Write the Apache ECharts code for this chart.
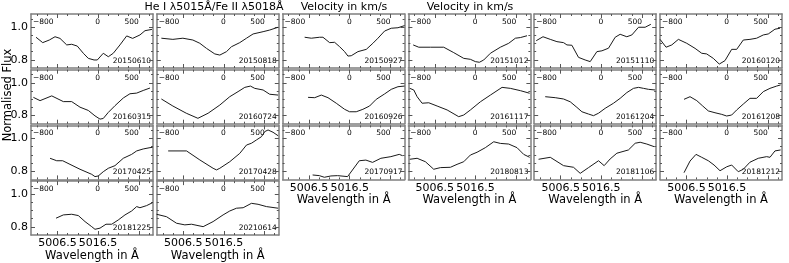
<!DOCTYPE html>
<html><head><meta charset="utf-8">
<script src="https://cdn.jsdelivr.net/npm/echarts@6/dist/echarts.min.js"></script>
<style>html,body{margin:0;padding:0;background:#fff}#c{width:789px;height:263px}</style>
</head><body><div id="c"></div><script>
// ---------------- data ----------------
const dates = ['20150610','20150818','20150927','20151012','20151110','20160120',
               '20160315','20160724','20160926','20161117','20161204','20161208',
               '20170425','20170428','20170917','20180813','20181106','20181212',
               '20181225','20210614'];
// velocity (km/s) and normalised flux per observation
const vel_20150610 = [-906,-808,-711,-627,-554,-455,-382,-300,-211,-138,-54,-6,82,156,229,327,426,514,621,695,797];
const flux_20150610 = [0.938,0.905,0.921,0.941,0.931,0.891,0.895,0.884,0.840,0.809,0.799,0.799,0.840,0.819,0.840,0.891,0.946,0.931,0.952,0.978,0.986];
const vel_20150818 = [-913,-744,-597,-450,-348,-250,-128,-54,44,117,239,338,435,582,679,802];
const flux_20150818 = [0.932,0.925,0.932,0.921,0.901,0.870,0.836,0.829,0.850,0.880,0.905,0.932,0.958,0.972,0.982,0.999];
const vel_20150927 = [-656,-558,-436,-387,-289,-216,-142,-69,-20,29,127,250,347,421,519,617,715,812];
const flux_20150927 = [0.938,0.932,0.938,0.938,0.905,0.907,0.880,0.850,0.823,0.825,0.850,0.864,0.901,0.932,0.976,0.993,0.996,1.009];
const vel_20151012 = [-910,-828,-656,-461,-314,-167,-69,4,63,127,225,371,494,592,665,763];
const flux_20151012 = [0.891,0.877,0.877,0.877,0.844,0.809,0.803,0.789,0.785,0.799,0.840,0.877,0.901,0.932,0.936,0.947];
const vel_20151110 = [-950,-851,-744,-646,-549,-499,-426,-329,-231,-157,-59,15,112,210,283,381,455,553,650,734];
const flux_20151110 = [0.917,0.941,0.925,0.911,0.905,0.891,0.889,0.815,0.799,0.789,0.850,0.855,0.871,0.938,0.956,0.941,0.952,0.999,0.999,1.017];
const vel_20160120 = [-979,-891,-807,-710,-587,-465,-367,-294,-197,-109,-25,73,147,244,342,440,538,611,709,783];
const flux_20160120 = [0.925,0.877,0.891,0.925,0.901,0.870,0.840,0.836,0.809,0.774,0.795,0.864,0.864,0.921,0.925,0.932,0.952,0.958,0.987,0.993];
const vel_20160315 = [-945,-847,-675,-505,-382,-260,-138,-40,34,82,156,254,376,474,573,669,768];
const flux_20160315 = [0.911,0.891,0.920,0.885,0.885,0.851,0.831,0.798,0.778,0.782,0.819,0.860,0.907,0.933,0.937,0.953,0.968];
const vel_20160724 = [-913,-744,-547,-376,-226,-54,92,214,313,396,459,582,679,802];
const flux_20160724 = [0.901,0.858,0.814,0.783,0.814,0.864,0.915,0.946,0.972,0.980,0.966,0.956,0.930,0.925];
const vel_20160926 = [-606,-508,-411,-313,-191,-69,4,102,200,298,396,519,617,715,812];
const flux_20160926 = [0.911,0.909,0.925,0.909,0.875,0.838,0.823,0.823,0.838,0.858,0.899,0.932,0.960,0.976,0.980];
const vel_20161117 = [-960,-901,-852,-779,-681,-558,-411,-241,-167,-69,78,225,396,518,665,802];
const flux_20161117 = [0.966,0.956,0.915,0.875,0.878,0.858,0.834,0.793,0.803,0.834,0.884,0.925,0.972,0.966,0.952,0.936];
const vel_20161204 = [-818,-671,-549,-451,-353,-279,-182,-109,-35,63,185,283,381,479,553,626,700,798];
const flux_20161204 = [0.915,0.909,0.901,0.884,0.850,0.823,0.809,0.799,0.814,0.844,0.875,0.905,0.940,0.966,0.972,0.966,0.960,0.956];
const vel_20161208 = [-627,-539,-440,-352,-270,-172,-73,0,73,147,244,342,440,538,636,734,793];
const flux_20161208 = [0.899,0.915,0.891,0.858,0.828,0.817,0.807,0.797,0.803,0.834,0.870,0.905,0.905,0.946,0.966,0.980,0.987];
const vel_20170425 = [-700,-602,-514,-407,-260,-88,-40,9,82,156,254,376,499,573,669,768,807];
const flux_20170425 = [0.879,0.864,0.864,0.842,0.812,0.781,0.767,0.771,0.797,0.818,0.834,0.879,0.903,0.924,0.936,0.944,0.946];
const vel_20170428 = [-813,-543,-348,-153,-103,-54,92,239,338,411,484,558,606,655,728,802];
const flux_20170428 = [0.924,0.924,0.869,0.818,0.808,0.818,0.858,0.909,0.960,0.971,0.991,1.011,1.042,1.052,1.038,1.017];
const vel_20170917 = [-539,-440,-367,-270,-172,-25,147,244,342,464,611,734,782];
const flux_20170917 = [0.777,0.773,0.763,0.771,0.773,0.767,0.864,0.868,0.854,0.879,0.889,0.903,0.895];
const vel_20180813 = [-960,-852,-730,-608,-510,-363,-265,-167,-69,29,151,274,371,494,616,714,802];
const flux_20180813 = [0.873,0.879,0.858,0.812,0.822,0.824,0.842,0.858,0.899,0.916,0.944,0.980,0.970,0.966,0.944,0.903,0.885];
const vel_20181106 = [-916,-744,-549,-402,-304,-182,-35,48,136,235,405,504,577,675,783];
const flux_20181106 = [0.873,0.885,0.834,0.824,0.787,0.822,0.864,0.834,0.875,0.910,0.930,0.971,0.977,0.966,0.950];
const vel_20181212 = [-627,-539,-451,-367,-270,-186,-98,0,73,170,244,342,464,587,636,709,793];
const flux_20181212 = [0.791,0.862,0.903,0.885,0.864,0.838,0.803,0.827,0.838,0.797,0.812,0.855,0.879,0.889,0.885,0.924,0.930];
const vel_20181225 = [-612,-505,-382,-285,-186,-88,-40,34,122,206,302,401,499,573,621,719,807];
const flux_20181225 = [0.853,0.873,0.877,0.869,0.832,0.801,0.785,0.792,0.816,0.816,0.842,0.873,0.897,0.924,0.917,0.930,0.948];
const vel_20210614 = [-984,-837,-690,-568,-470,-299,-153,-6,92,191,289,411,508,631,802];
const flux_20210614 = [0.877,0.862,0.822,0.812,0.816,0.801,0.832,0.873,0.897,0.914,0.917,0.944,0.938,0.924,0.914];

const velocityTickLabels = [-800, 0, 500];
const wavelengthTickLabels = [5006.5, 5016.5];
const wavelengthMajorTicks = [5006.5, 5016.5, 5026.5];
const wavelengthMinorTicks = [5001.5,5004,5009,5011.5,5014,5019,5021.5,5024,5029];
const fluxTickLabels = [0.8, 1.0];
const fluxMinorTicks = [0.85, 0.9, 0.95, 1.05];

const velData = {
 '20150610':[vel_20150610,flux_20150610],'20150818':[vel_20150818,flux_20150818],
 '20150927':[vel_20150927,flux_20150927],'20151012':[vel_20151012,flux_20151012],
 '20151110':[vel_20151110,flux_20151110],'20160120':[vel_20160120,flux_20160120],
 '20160315':[vel_20160315,flux_20160315],'20160724':[vel_20160724,flux_20160724],
 '20160926':[vel_20160926,flux_20160926],'20161117':[vel_20161117,flux_20161117],
 '20161204':[vel_20161204,flux_20161204],'20161208':[vel_20161208,flux_20161208],
 '20170425':[vel_20170425,flux_20170425],'20170428':[vel_20170428,flux_20170428],
 '20170917':[vel_20170917,flux_20170917],'20180813':[vel_20180813,flux_20180813],
 '20181106':[vel_20181106,flux_20181106],'20181212':[vel_20181212,flux_20181212],
 '20181225':[vel_20181225,flux_20181225],'20210614':[vel_20210614,flux_20210614]
};

// ---------------- layout ----------------
const WMIN = 5000, WMAX = 5030, LAMBDA0 = 5016.4, C = 299792.458;
const VMIN = (WMIN / LAMBDA0 - 1) * C, VMAX = (WMAX / LAMBDA0 - 1) * C;
const YMIN = 0.75, YMAX = 1.08;
const colLeft = [31, 156.8, 282.6, 408.4, 534.2, 660];
const rowTop = [14, 69.7, 125.4, 181.1];
const PW = 122, PH = 54;
const FONT = 'DejaVu Sans';
const spine = {show: true, onZero: false, lineStyle: {color: '#7f7f7f', width: 1.5}};
const noLine = {show: false, onZero: false};
const tickStyle = {color: '#555', width: 1};

const grid = [], xAxis = [], yAxis = [], series = [], graphic = [];
dates.forEach((d, i) => {
  const col = i % 6, row = Math.floor(i / 6);
  const isBottom = i + 6 >= dates.length;
  const left = colLeft[col], top = rowTop[row];
  grid.push({left, top, width: PW, height: PH, containLabel: false});
  const xi = xAxis.length, yi = yAxis.length;
  // velocity axis (top, labels inside)
  xAxis.push({gridIndex: i, type: 'value', position: 'top', min: VMIN, max: VMAX,
    axisLine: spine, axisTick: {show: false}, splitLine: {show: false},
    axisLabel: {inside: true, customValues: velocityTickLabels, fontSize: 7.5, fontFamily: FONT, color: '#000', margin: 4,
      formatter: v => (v < 0 ? '\u2212' + Math.abs(v) : String(v))}});
  // wavelength bottom (major ticks + labels)
  xAxis.push({gridIndex: i, type: 'value', position: 'bottom', min: WMIN, max: WMAX,
    axisLine: spine, splitLine: {show: false},
    axisTick: {inside: true, length: 4, customValues: wavelengthMajorTicks, lineStyle: tickStyle},
    axisLabel: {show: isBottom, customValues: wavelengthTickLabels, fontSize: 11, fontFamily: FONT, color: '#000', margin: 3,
      formatter: v => v.toFixed(1)},
    name: isBottom ? 'Wavelength in \u00c5' : '', nameLocation: 'middle', nameGap: 15,
    nameTextStyle: {fontSize: 11.5, fontFamily: FONT, color: '#000'}});
  // wavelength bottom minor ticks
  xAxis.push({gridIndex: i, type: 'value', position: 'bottom', min: WMIN, max: WMAX,
    axisLine: noLine, splitLine: {show: false}, axisLabel: {show: false},
    axisTick: {inside: true, length: 2, customValues: wavelengthMinorTicks, lineStyle: tickStyle}});
  // wavelength top ticks
  xAxis.push({gridIndex: i, type: 'value', position: 'top', min: WMIN, max: WMAX,
    axisLine: noLine, splitLine: {show: false}, axisLabel: {show: false},
    axisTick: {inside: true, length: 4, customValues: wavelengthMajorTicks, lineStyle: tickStyle}});
  xAxis.push({gridIndex: i, type: 'value', position: 'top', min: WMIN, max: WMAX,
    axisLine: noLine, splitLine: {show: false}, axisLabel: {show: false},
    axisTick: {inside: true, length: 2, customValues: wavelengthMinorTicks, lineStyle: tickStyle}});
  // y left
  yAxis.push({gridIndex: i, type: 'value', position: 'left', min: YMIN, max: YMAX,
    axisLine: spine, splitLine: {show: false},
    axisTick: {inside: true, length: 4, customValues: fluxTickLabels, lineStyle: tickStyle},
    axisLabel: {show: col === 0, customValues: fluxTickLabels, fontSize: 11, fontFamily: FONT, color: '#000', margin: 3,
      formatter: v => v.toFixed(1)}});
  yAxis.push({gridIndex: i, type: 'value', position: 'left', min: YMIN, max: YMAX,
    axisLine: noLine, splitLine: {show: false}, axisLabel: {show: false},
    axisTick: {inside: true, length: 2, customValues: fluxMinorTicks, lineStyle: tickStyle}});
  // y right
  yAxis.push({gridIndex: i, type: 'value', position: 'right', min: YMIN, max: YMAX,
    axisLine: spine, splitLine: {show: false}, axisLabel: {show: false},
    axisTick: {inside: true, length: 4, customValues: fluxTickLabels, lineStyle: tickStyle}});
  yAxis.push({gridIndex: i, type: 'value', position: 'right', min: YMIN, max: YMAX,
    axisLine: noLine, splitLine: {show: false}, axisLabel: {show: false},
    axisTick: {inside: true, length: 2, customValues: fluxMinorTicks, lineStyle: tickStyle}});
  const [vv, ff] = velData[d];
  series.push({type: 'line', xAxisIndex: xi, yAxisIndex: yi, data: vv.map((v, k) => [v, ff[k]]),
    showSymbol: false, symbol: 'none', clip: true, animation: false,
    lineStyle: {color: '#1a1a1a', width: 1}});
  graphic.push({type: 'text', x: left + PW - 2, y: top + PH - 3,
    style: {text: d, textAlign: 'right', textVerticalAlign: 'bottom', font: '7.5px "DejaVu Sans"', fill: '#000'}});
});

graphic.push({type: 'text', x: 214, y: 7, style: {text: 'He I \u03bb5015\u00c5/Fe II \u03bb5018\u00c5', textAlign: 'center', textVerticalAlign: 'middle', font: '11px "DejaVu Sans"', fill: '#000'}});
graphic.push({type: 'text', x: 344, y: 7, style: {text: 'Velocity in km/s', textAlign: 'center', textVerticalAlign: 'middle', font: '11px "DejaVu Sans"', fill: '#000'}});
graphic.push({type: 'text', x: 470, y: 7, style: {text: 'Velocity in km/s', textAlign: 'center', textVerticalAlign: 'middle', font: '11px "DejaVu Sans"', fill: '#000'}});
graphic.push({type: 'text', x: 8, y: 95, rotation: Math.PI / 2, style: {text: 'Normalised Flux', textAlign: 'center', textVerticalAlign: 'middle', font: '11.5px "DejaVu Sans"', fill: '#000'}});

const chart = echarts.init(document.getElementById('c'), null, {renderer: 'canvas'});
chart.setOption({animation: false, backgroundColor: '#fff', grid, xAxis, yAxis, series, graphic});
</script></body></html>
